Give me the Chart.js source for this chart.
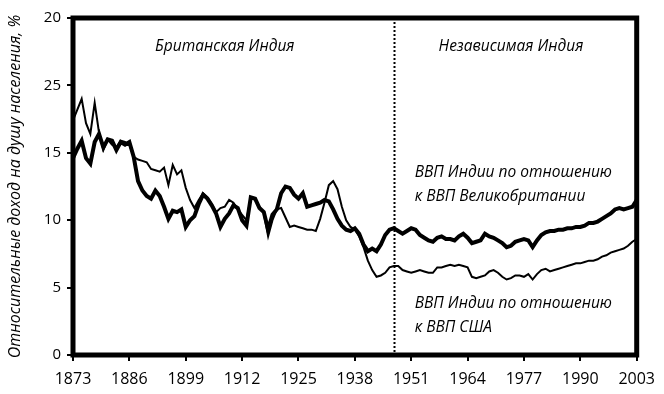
<!DOCTYPE html>
<html>
<head>
<meta charset="utf-8">
<script src="https://cdn.jsdelivr.net/npm/chart.js@4/dist/chart.umd.min.js"></script>
<style>
  html, body { margin: 0; padding: 0; background: #fff; }
  #wrap { width: 664px; height: 394px; }
</style>
</head>
<body>
<div id="wrap"><canvas id="c" width="664" height="394"></canvas></div>
<script>
const years = [];
for (let y = 1873; y <= 2003; y++) years.push(y);

const indiaVsUK = [
  14.6, 15.3, 15.9, 14.6, 14.2, 15.8, 16.4, 15.4, 16.0, 15.9,
  15.2, 15.8, 15.6, 15.8, 14.7, 12.9, 12.2, 11.8, 11.6, 12.2,
  11.8, 11.0, 10.1, 10.7, 10.6, 10.8, 9.5, 10.0, 10.3, 11.2,
  11.9, 11.6, 11.1, 10.5, 9.5, 10.1, 10.5, 11.1, 10.9, 10.0,
  9.6, 11.7, 11.6, 10.9, 10.6, 9.3, 10.4, 10.8, 12.0, 12.5,
  12.4, 11.9, 11.6, 12.0, 11.0, 11.1, 11.2, 11.3, 11.5, 11.4,
  10.8, 10.1, 9.6, 9.3, 9.2, 9.4, 9.0, 8.2, 7.7, 7.9,
  7.7, 8.2, 8.9, 9.3, 9.4, 9.2, 9.0, 9.2, 9.4, 9.3,
  8.9, 8.7, 8.5, 8.4, 8.7, 8.8, 8.6, 8.6, 8.5, 8.8,
  9.0, 8.7, 8.3, 8.4, 8.5, 9.0, 8.8, 8.7, 8.5, 8.3,
  8.0, 8.1, 8.4, 8.5, 8.6, 8.5, 8.0, 8.5, 8.9, 9.1,
  9.2, 9.2, 9.3, 9.3, 9.4, 9.4, 9.5, 9.5, 9.6, 9.8,
  9.8, 9.9, 10.1, 10.3, 10.5, 10.8, 10.9, 10.8, 10.9, 11.0,
  11.5
];

const indiaVsUSA = [
  17.4, 18.2, 19.0, 17.2, 16.4, 18.7, 16.5, 15.2, 16.0, 15.6,
  15.4, 15.9, 15.8, 15.6, 14.7, 14.5, 14.4, 14.3, 13.8, 13.7,
  13.6, 13.9, 12.6, 14.1, 13.4, 13.7, 12.4, 11.5, 10.9, 11.5,
  12.0, 11.7, 11.2, 10.6, 10.9, 11.0, 11.5, 11.3, 10.8, 10.4,
  10.0, 11.7, 11.5, 11.0, 10.5, 8.8, 10.0, 10.8, 10.9, 10.2,
  9.5, 9.6, 9.5, 9.4, 9.3, 9.3, 9.2, 10.1, 11.3, 12.6,
  12.9, 12.3, 11.0, 10.0, 9.5, 9.3, 8.8, 8.0, 7.0, 6.3,
  5.8, 5.9, 6.1, 6.5, 6.6, 6.6, 6.3, 6.2, 6.1, 6.2,
  6.3, 6.2, 6.1, 6.1, 6.5, 6.5, 6.6, 6.7, 6.6, 6.7,
  6.6, 6.5, 5.8, 5.7, 5.8, 5.9, 6.2, 6.3, 6.1, 5.8,
  5.6, 5.7, 5.9, 5.9, 5.8, 6.0, 5.6, 6.0, 6.3, 6.4,
  6.2, 6.3, 6.4, 6.5, 6.6, 6.7, 6.8, 6.8, 6.9, 7.0,
  7.0, 7.1, 7.3, 7.4, 7.6, 7.7, 7.8, 7.9, 8.1, 8.4,
  8.6
];

const xTickYears = [1873, 1886, 1899, 1912, 1925, 1938, 1951, 1964, 1977, 1990, 2003];
const yTickValues = [0, 5, 10, 15, 20, 25];
const yTickLabels = ["0", "5", "10", "15", "25", "20"];
const independenceYear = 1947;

const yTitle = "Относительные доход на душу населения, %";
const periodLabels = [
  { text: "Британская Индия", x: 1908, y: 22.9 },
  { text: "Независимая Индия", x: 1974, y: 22.9 }
];
const seriesLabels = [
  { lines: ["ВВП Индии по отношению", "к ВВП Великобритании"], x: 1951.8, y: 13.5 },
  { lines: ["ВВП Индии по отношению", "к ВВП США"], x: 1951.8, y: 3.8 }
];

const FONT = "'Open Sans', 'Liberation Sans', sans-serif";

const overlay = {
  id: 'overlay',
  afterDatasetsDraw(chart) {
    const { ctx, chartArea: a, scales } = chart;
    const xs = scales.x, ys = scales.y;
    ctx.save();
    const xi = Math.round(xs.getPixelForValue(independenceYear)) + 0.5;
    ctx.strokeStyle = '#000';
    ctx.lineWidth = 2;
    ctx.setLineDash([2, 2]);
    ctx.beginPath();
    ctx.moveTo(xi, a.top);
    ctx.lineTo(xi, a.bottom);
    ctx.stroke();
    ctx.setLineDash([]);
    ctx.lineWidth = 5;
    ctx.strokeRect(a.left, a.top, a.right - a.left, a.bottom - a.top);
    ctx.fillStyle = '#000';
    ctx.font = "italic 15.5px " + FONT;
    ctx.textBaseline = 'middle';
    ctx.textAlign = 'center';
    periodLabels.forEach(p => {
      ctx.fillText(p.text, xs.getPixelForValue(p.x), ys.getPixelForValue(p.y));
    });
    ctx.textAlign = 'left';
    seriesLabels.forEach(s => {
      const x0 = xs.getPixelForValue(s.x);
      const y0 = ys.getPixelForValue(s.y);
      s.lines.forEach((ln, i) => ctx.fillText(ln, x0, y0 + i * 24));
    });
    ctx.restore();
  }
};

new Chart(document.getElementById('c'), {
  type: 'line',
  data: {
    datasets: [
      {
        label: 'ВВП Индии по отношению к ВВП Великобритании',
        data: years.map((y, i) => ({ x: y, y: indiaVsUK[i] })),
        borderColor: '#000',
        borderWidth: 4,
        pointRadius: 0,
        tension: 0,
        fill: false
      },
      {
        label: 'ВВП Индии по отношению к ВВП США',
        data: years.map((y, i) => ({ x: y, y: indiaVsUSA[i] })),
        borderColor: '#000',
        borderWidth: 2,
        pointRadius: 0,
        tension: 0,
        fill: false
      }
    ]
  },
  options: {
    responsive: false,
    animation: false,
    layout: { padding: { top: 18, right: 24, left: 0, bottom: 0 } },
    plugins: { legend: { display: false }, tooltip: { enabled: false } },
    scales: {
      x: {
        type: 'linear',
        min: 1873,
        max: 2003,
        afterBuildTicks(s) { s.ticks = xTickYears.map(v => ({ value: v })); },
        afterFit(s) { s.height = 39; },
        ticks: {
          callback: v => String(v),
          color: '#000',
          font: { family: FONT, size: 16 },
          maxRotation: 0,
          autoSkip: false,
          padding: 9
        },
        grid: { drawOnChartArea: false, drawTicks: true, tickLength: 6, color: '#000', lineWidth: 2 },
        border: { display: false }
      },
      y: {
        min: 0,
        max: 25,
        afterBuildTicks(s) { s.ticks = yTickValues.map(v => ({ value: v })); },
        afterFit(s) { s.width = 73; },
        ticks: {
          callback: (v) => yTickLabels[yTickValues.indexOf(v)],
          color: '#000',
          font: { family: FONT, size: 15 },
          padding: 6
        },
        grid: { drawOnChartArea: false, drawTicks: true, tickLength: 6, color: '#000', lineWidth: 2 },
        border: { display: false },
        title: {
          display: true,
          text: yTitle,
          color: '#000',
          font: { family: FONT, size: 16, style: 'italic' },
          padding: { top: 6, bottom: 0 }
        }
      }
    }
  },
  plugins: [overlay]
});
</script>
</body>
</html>
